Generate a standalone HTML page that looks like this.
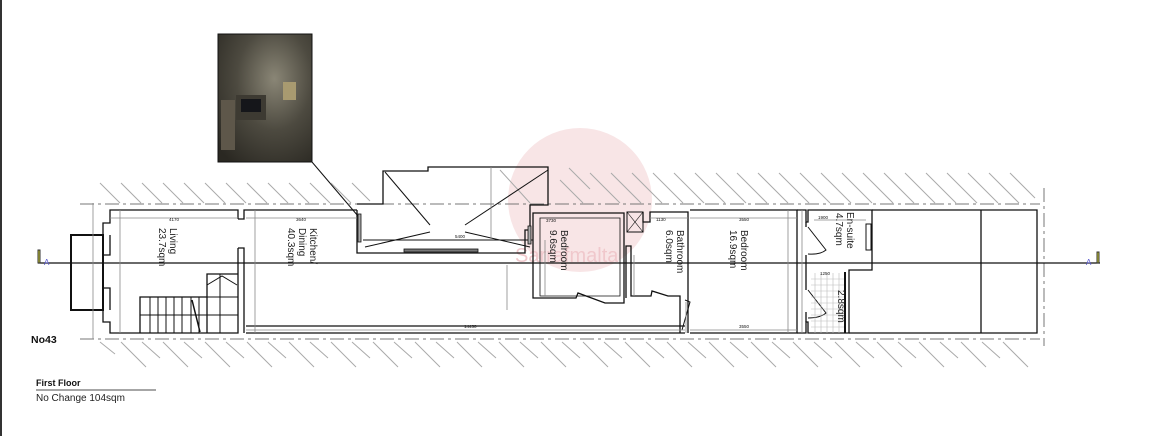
<!DOCTYPE html>
<html><head><style>
html,body{margin:0;padding:0;background:#fff;width:1154px;height:436px;overflow:hidden}
svg{display:block}
text{font-family:"Liberation Sans",sans-serif}
</style></head><body>
<svg width="1154" height="436" viewBox="0 0 1154 436" xmlns="http://www.w3.org/2000/svg">
<defs>
<radialGradient id="ph" cx="0.6" cy="0.35" r="0.8">
<stop offset="0" stop-color="#8a8676"/><stop offset="0.5" stop-color="#4d4a40"/><stop offset="1" stop-color="#2a2822"/>
</radialGradient>
</defs>
<line x1="1" y1="0" x2="1" y2="436" stroke="#333" stroke-width="2"/>
<!-- watermark -->
<circle cx="580" cy="200" r="72" fill="#f3d3d6" opacity="0.6"/>
<text x="515" y="262" font-size="20" fill="#f0c8cc">Sarrafmalta</text>
<!-- photo -->
<rect x="218" y="34" width="94" height="128" fill="url(#ph)" stroke="#111" stroke-width="1"/>
<rect x="236" y="95" width="30" height="25" fill="#3d3a32"/>
<rect x="241" y="99" width="20" height="13" fill="#15161a"/>
<rect x="283" y="82" width="13" height="18" fill="#a89a70"/>
<rect x="221" y="100" width="14" height="50" fill="#5e574a"/>
<line x1="312" y1="162" x2="358" y2="216" stroke="#111" stroke-width="1"/>
<!-- hatching -->
<g stroke="#aaa" stroke-width="1">
<path d="M100 183 l20 20 M121 183 l20 20 M142 183 l20 20 M163 183 l20 20 M184 183 l20 20 M205 183 l20 20 M226 183 l20 20 M247 183 l20 20 M268 183 l20 20 M289 183 l20 20 M310 183 l20 20 M331 183 l20 20 M352 183 l18 18 M590 173 l30 30 M611 173 l30 30 M632 173 l30 30 M653 173 l30 30 M674 173 l30 30 M695 173 l30 30 M716 173 l30 30 M737 173 l30 30 M758 173 l30 30 M779 173 l30 30 M800 173 l30 30 M821 173 l30 30 M842 173 l30 30 M863 173 l30 30 M884 173 l30 30 M905 173 l30 30 M926 173 l30 30 M947 173 l30 30 M968 173 l30 30 M989 173 l30 30 M1010 173 l25 25 M560 180 l23 23 M569 168 l21 21 M500 170 l30 33"/>
<path d="M100 342 l15 12 M121 342 l25 25 M142 342 l18 16 M163 342 l25 25 M184 342 l18 16 M205 342 l25 25 M226 342 l18 16 M247 342 l25 25 M268 342 l18 16 M289 342 l25 25 M310 342 l18 16 M331 342 l25 25 M352 342 l18 16 M373 342 l25 25 M394 342 l18 16 M415 342 l25 25 M436 342 l18 16 M457 342 l25 25 M478 342 l18 16 M499 342 l25 25 M520 342 l18 16 M541 342 l25 25 M562 342 l18 16 M583 342 l25 25 M604 342 l18 16 M625 342 l25 25 M646 342 l18 16 M667 342 l25 25 M688 342 l18 16 M709 342 l25 25 M730 342 l18 16 M751 342 l25 25 M772 342 l18 16 M793 342 l25 25 M814 342 l18 16 M835 342 l25 25 M856 342 l18 16 M877 342 l25 25 M898 342 l18 16 M919 342 l25 25 M940 342 l18 16 M961 342 l25 25 M982 342 l18 16 M1003 342 l25 25"/>
</g>
<g stroke="#777" stroke-width="1" stroke-dasharray="14,4,3,4" fill="none">
<line x1="80" y1="204" x2="1040" y2="204"/>
<line x1="80" y1="339" x2="1040" y2="339"/>
<line x1="1044" y1="188" x2="1044" y2="346"/>
</g>
<!-- section line -->
<line x1="38" y1="263" x2="1100" y2="263" stroke="#111" stroke-width="1.2"/>
<path d="M38 250 v13 h2 v-13z" fill="#cc3" stroke="#333"/>
<text x="44" y="265" font-size="8" fill="#55c">A</text>
<path d="M1097 252 v11 h2 v-11z" fill="#cc3" stroke="#333"/>
<text x="1086" y="265" font-size="8" fill="#55c">A</text>
<!-- walls -->
<g stroke="#111" stroke-width="1.3" fill="none">
<path d="M103 235 V223 H110 V210 H238 V219"/>
<path d="M103 310 V322 H110 V333 H238 V248"/>
<path d="M103 235 V255 H110 V235 M103 310 V288 H110 V310"/>
<rect x="71" y="235" width="32" height="75" stroke-width="2"/>
<path d="M238 248 H244 V333"/>
<path d="M238 219 H244 V210 H357"/>
<path d="M246 333 H685"/>
<path d="M246 326 H685"/>
<path d="M357 210 V253 H525 V230 H530 V205 H548 V167 H428 V171 H383 V204 H357"/>
<line x1="363" y1="240" x2="533" y2="240" stroke-width="1"/>
<line x1="385" y1="172" x2="430" y2="225" stroke-width="1"/>
<line x1="548" y1="170" x2="465" y2="225" stroke-width="1"/>
<line x1="365" y1="247" x2="430" y2="232" stroke-width="1"/>
<line x1="465" y1="232" x2="530" y2="247" stroke-width="1"/>
<line x1="491" y1="167" x2="491" y2="240" stroke="#888" stroke-width="0.8"/>
<rect x="404" y="249" width="74" height="3" fill="#777" stroke-width="0.8"/>
<rect x="358" y="214" width="3" height="28" fill="#aaa" stroke-width="0.8"/>
<rect x="528" y="226" width="3" height="18" fill="#aaa" stroke-width="0.8"/>
<path d="M533 240 V298 H576 L578 293 L605 303 H624 V213 H533 V240"/>
<path d="M540 218 H620 V296 H540z" stroke-width="0.8"/>
<path d="M626 298 V246 H631 V296 H651 L652 291 L668 296 H680 V333"/>
<path d="M643 212 V222 H650 V212 H688 V333"/>
<rect x="627" y="212" width="16" height="20" stroke-width="1"/>
<path d="M627 212 l16 20 M643 212 l-16 20" stroke-width="0.6"/>
<path d="M685 300 L690 302 L682 330" stroke-width="1"/>
<path d="M690 210 H797 V333 H690"/>
<path d="M797 210 H806 V222 H808 V210 H872 V270 H849 V333 H808 V322 H806 V333 H797"/>
<path d="M806 222 V227 M806 255 V290 M806 312 V322" stroke-width="1.3"/>
<path d="M808 227 L826 250 Q820 255 808 254" stroke-width="1"/>
<path d="M808 290 L826 313 Q820 318 808 318" stroke-width="1"/>
<rect x="866" y="224" width="5" height="26" stroke-width="1"/>
<line x1="845" y1="272" x2="845" y2="333" stroke-width="2"/>
<path d="M872 210 H1037 V333 H849"/>
<line x1="981" y1="210" x2="981" y2="333"/>
<path d="M140 333 V297 H207 V274 H238"/>
<path d="M207 297 V333" />
<path d="M207 285 L222 276 L237 285" stroke-width="1"/>
<g stroke-width="1">
<line x1="150" y1="297" x2="150" y2="333"/><line x1="158" y1="297" x2="158" y2="333"/>
<line x1="166" y1="297" x2="166" y2="333"/><line x1="174" y1="297" x2="174" y2="333"/>
<line x1="182" y1="297" x2="182" y2="333"/><line x1="191" y1="297" x2="191" y2="333"/>
<line x1="199" y1="297" x2="199" y2="333"/><line x1="140" y1="315" x2="238" y2="315"/>
<line x1="207" y1="297" x2="238" y2="297"/><line x1="220" y1="274" x2="220" y2="333"/>
<line x1="192" y1="300" x2="200" y2="332" stroke-width="1.5"/>
</g>
</g>
<g stroke="#bbb" stroke-width="0.6">
<path d="M811 279H844M811 285H844M811 291H844M811 297H844M811 303H844M811 309H844M811 315H844M811 321H844M811 327H844"/>
<path d="M815 273V333M821 273V333M827 273V333M833 273V333M839 273V333"/>
</g>
<g stroke="#888" stroke-width="0.8" fill="none">
<line x1="110" y1="218" x2="238" y2="218"/>
<line x1="246" y1="218" x2="357" y2="218"/>
<line x1="120" y1="210" x2="120" y2="333"/>
<line x1="255" y1="210" x2="255" y2="333"/>
<line x1="93" y1="203" x2="93" y2="339"/>
<line x1="246" y1="330" x2="685" y2="330"/>
<line x1="690" y1="330" x2="797" y2="330"/>
<line x1="690" y1="218" x2="797" y2="218"/>
<line x1="650" y1="218" x2="688" y2="218"/>
<line x1="788" y1="210" x2="788" y2="333"/>
<line x1="802" y1="210" x2="802" y2="333"/>
<line x1="814" y1="220" x2="866" y2="220"/>
<line x1="507" y1="265" x2="507" y2="310"/>
<line x1="686" y1="302" x2="686" y2="333"/>
<line x1="545" y1="240" x2="545" y2="296"/>
<line x1="634" y1="255" x2="634" y2="296"/>
</g>
<g font-size="4.5" fill="#111">
<text x="169" y="221">4170</text><text x="296" y="221">3640</text>
<text x="455" y="238">5400</text><text x="546" y="222">3730</text>
<text x="656" y="221">1130</text><text x="739" y="221">3550</text>
<text x="464" y="328">14430</text><text x="739" y="328">3550</text>
<text x="820" y="275">1250</text><text x="818" y="219">1900</text>
</g>
<g font-size="10" fill="#222">
<text transform="translate(170,228) rotate(90)">Living</text>
<text transform="translate(159,228) rotate(90)">23.7sqm</text>
<text transform="translate(310,228) rotate(90)">Kitchen/</text>
<text transform="translate(299,228) rotate(90)">Dining</text>
<text transform="translate(288,228) rotate(90)">40.3sqm</text>
<text transform="translate(561,230) rotate(90)">Bedroom</text>
<text transform="translate(550,230) rotate(90)">9.6sqm</text>
<text transform="translate(677,230) rotate(90)">Bathroom</text>
<text transform="translate(666,230) rotate(90)">6.0sqm</text>
<text transform="translate(741,230) rotate(90)">Bedroom</text>
<text transform="translate(730,230) rotate(90)">16.9sqm</text>
<text transform="translate(847,212) rotate(90)">En-suite</text>
<text transform="translate(836,213) rotate(90)">4.7sqm</text>
<text transform="translate(838,290) rotate(90)">2.8sqm</text>
</g>
<text x="31" y="343" font-size="10.5" font-weight="bold" fill="#111">No43</text>
<text x="36" y="386" font-size="9" font-weight="bold" fill="#111">First Floor</text>
<line x1="36" y1="390" x2="156" y2="390" stroke="#111" stroke-width="0.8"/>
<text x="36" y="401" font-size="10" fill="#222">No Change 104sqm</text>
</svg>
</body></html>
